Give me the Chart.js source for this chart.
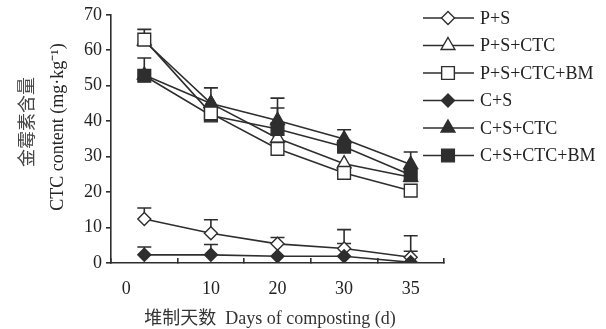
<!DOCTYPE html>
<html>
<head>
<meta charset="utf-8">
<script src="https://cdn.jsdelivr.net/npm/chart.js@4.4.1/dist/chart.umd.min.js"></script>
<style>
  html, body { margin: 0; padding: 0; background: #fff; }
  #wrap { width: 606px; height: 329px; }
</style>
</head>
<body>
<div id="wrap"><canvas id="chart"></canvas></div>
<script>
// days of composting (tick labels)
const days = ['0        ', '10', '20', '30', '35'];

const names = ['P+S', 'P+S+CTC', 'P+S+CTC+BM', 'C+S', 'C+S+CTC', 'C+S+CTC+BM'];

// CTC content, mg/kg
const ps        = [12.4, 8.4, 5.4, 4.1, 1.6];
const psCtc     = [62.6, 45.0, 35.2, 28.0, 24.2];
const psCtcBm   = [63.0, 42.2, 32.2, 25.4, 20.4];
const cs        = [2.3, 2.3, 1.9, 1.9, 0.2];
const csCtc     = [53.0, 45.0, 40.2, 35.0, 27.8];
const csCtcBm   = [52.8, 41.6, 37.8, 32.8, 24.8];

// upper end of error bars (null = none shown)
const psErr      = [15.5, 12.2, 7.2, 9.4, 7.7];
const psCtcErr   = [null, null, null, null, null];
const psCtcBmErr = [65.9, null, null, null, null];
const csErr      = [4.5, 5.2, null, 5.5, 3.3];
const csCtcErr   = [null, 49.4, 46.5, 37.6, 31.3];
const csCtcBmErr = [57.8, null, 43.7, null, null];

const yTitle = ['金霉素含量', 'CTC content (mg·kg⁻¹)'];
const xTitle = '堆制天数  Days of composting (d)';

const ink = '#2e2e2e';
const serif = '"Liberation Serif", "Noto Sans CJK SC", serif';

function ds(label, data, err, style, filled, radius, order) {
    return {
        label: label,
        data: data,
        err: err,
        order: order,
        borderColor: ink,
        borderWidth: 1.6,
        pointStyle: style,
        pointRadius: radius,
        pointHoverRadius: radius,
        pointBackgroundColor: filled ? ink : '#fff',
        pointBorderColor: ink,
        pointBorderWidth: 1.4,
        tension: 0,
        fill: false
    };
}

const errorBars = {
    id: 'errorBars',
    beforeDatasetsDraw(chart) {
        const ctx = chart.ctx;
        const y = chart.scales.y;
        ctx.save();
        ctx.strokeStyle = ink;
        ctx.lineWidth = 1.6;
        chart.data.datasets.forEach((d, i) => {
            const meta = chart.getDatasetMeta(i);
            d.err.forEach((top, j) => {
                if (top == null) return;
                const p = meta.data[j];
                const yt = y.getPixelForValue(top);
                ctx.beginPath();
                ctx.moveTo(p.x, p.y);
                ctx.lineTo(p.x, yt);
                ctx.moveTo(p.x - 7, yt);
                ctx.lineTo(p.x + 7, yt);
                ctx.stroke();
            });
        });
        ctx.restore();
    }
};

// legend on the right and the axis titles
const sideText = {
    id: 'sideText',
    afterDraw(chart) {
        const ctx = chart.ctx;
        ctx.save();
        ctx.font = '18px ' + serif;
        ctx.textBaseline = 'middle';
        chart.data.datasets.forEach((d, i) => {
            const yy = 18 + i * 27.5;
            ctx.strokeStyle = ink;
            ctx.lineWidth = 1.6;
            ctx.beginPath();
            ctx.moveTo(423, yy);
            ctx.lineTo(474, yy);
            ctx.stroke();
            ctx.fillStyle = d.pointBackgroundColor;
            ctx.strokeStyle = ink;
            ctx.lineWidth = d.pointBorderWidth;
            Chart.helpers.drawPoint(ctx, {
                pointStyle: d.pointStyle,
                radius: d.pointRadius,
                borderWidth: d.pointBorderWidth,
                rotation: 0
            }, 448, yy);
            ctx.fillStyle = '#222';
            ctx.fillText(d.label, 480, yy + 1);
        });

        ctx.textAlign = 'center';
        ctx.fillStyle = '#333';
        ctx.fillText(xTitle, 270, 319);

        ctx.translate(28, 122);
        ctx.rotate(-Math.PI / 2);
        ctx.fillStyle = '#444';
        ctx.fillText(yTitle[0], 0, 0);
        ctx.fillStyle = '#222';
        ctx.fillText(yTitle[1], -5, 30);
        ctx.restore();
    }
};

new Chart(document.getElementById('chart'), {
    type: 'line',
    data: {
        labels: days,
        datasets: [
            ds(names[0], ps, psErr, 'rectRot', false, 6.5, 5),
            ds(names[1], psCtc, psCtcErr, 'triangle', false, 8, 3),
            ds(names[2], psCtcBm, psCtcBmErr, 'rect', false, 9, 0),
            ds(names[3], cs, csErr, 'rectRot', true, 6.5, 4),
            ds(names[4], csCtc, csCtcErr, 'triangle', true, 8, 2),
            ds(names[5], csCtcBm, csCtcBmErr, 'rect', true, 9, 1)
        ]
    },
    options: {
        responsive: true,
        maintainAspectRatio: false,
        animation: false,
        layout: { padding: { top: 10, right: 162, left: 0, bottom: 0 } },
        plugins: {
            legend: { display: false },
            tooltip: { enabled: false }
        },
        scales: {
            x: {
                type: 'category',
                offset: true,
                grid: {
                    offset: true,
                    drawOnChartArea: false,
                    tickLength: -5,
                    color: ink,
                    lineWidth: 1.6
                },
                border: { display: true, color: ink, width: 1.6 },
                ticks: {
                    color: '#222',
                    padding: 20,
                    maxRotation: 0,
                    font: { family: serif, size: 18 }
                },
                afterFit(scale) { scale.height = 66; }
            },
            y: {
                min: 0,
                max: 70,
                ticks: {
                    stepSize: 10,
                    color: '#222',
                    padding: 4,
                    font: { family: serif, size: 18 }
                },
                grid: {
                    drawOnChartArea: false,
                    tickLength: 5,
                    color: ink,
                    lineWidth: 1.6
                },
                border: { display: true, color: ink, width: 1.6 },
                afterFit(scale) { scale.width = 111; }
            }
        }
    },
    plugins: [errorBars, sideText]
});
</script>
</body>
</html>
